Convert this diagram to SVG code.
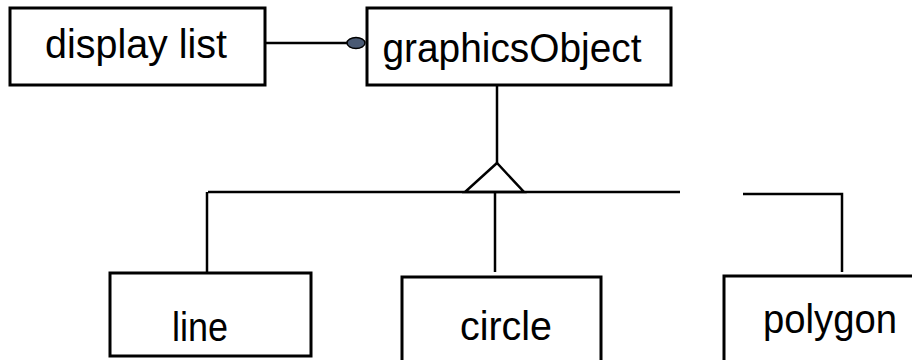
<svg xmlns="http://www.w3.org/2000/svg" width="912" height="360" viewBox="0 0 912 360">
<style>
.box{fill:#fff;stroke:#000;stroke-width:3}
.lbl{font-family:"Liberation Sans",Arial,sans-serif;font-size:40px;fill:#000;text-anchor:middle}
.ln{fill:none;stroke:#000;stroke-width:2.5}
</style>
<rect width="912" height="360" fill="#fff"/>
<g id="connectors">
<line class="ln" x1="265" y1="43" x2="348" y2="43"/>
<ellipse cx="356" cy="43" rx="9" ry="5.5" fill="#4a5a74" stroke="#000" stroke-width="1.5"/>
<line class="ln" x1="497" y1="86" x2="497" y2="163"/>
<polygon class="ln" points="497,163 465,192 524,192"/>
<line class="ln" x1="208" y1="192" x2="680" y2="192"/>
<line class="ln" x1="207" y1="192" x2="207" y2="272"/>
<line class="ln" x1="495" y1="192" x2="495" y2="272"/>
<polyline class="ln" points="743,194 842,194 842,272"/>
</g>
<g id="display-list">
<rect class="box" x="10" y="8" width="255" height="77"/>
<text class="lbl" x="136" y="58" textLength="182" lengthAdjust="spacingAndGlyphs">display list</text>
</g>
<g id="graphicsObject">
<rect class="box" x="367" y="8" width="304" height="77"/>
<text class="lbl" x="512" y="62" textLength="259" lengthAdjust="spacingAndGlyphs">graphicsObject</text>
</g>
<g id="line">
<rect class="box" x="110" y="273" width="201" height="83"/>
<text class="lbl" x="200" y="341" textLength="56" lengthAdjust="spacingAndGlyphs">line</text>
</g>
<g id="circle">
<rect class="box" x="402" y="277" width="199" height="90"/>
<text class="lbl" x="506" y="340" textLength="92" lengthAdjust="spacingAndGlyphs">circle</text>
</g>
<g id="polygon">
<rect class="box" x="724" y="276" width="200" height="90"/>
<text class="lbl" x="830" y="333" textLength="134" lengthAdjust="spacingAndGlyphs">polygon</text>
</g>
</svg>
